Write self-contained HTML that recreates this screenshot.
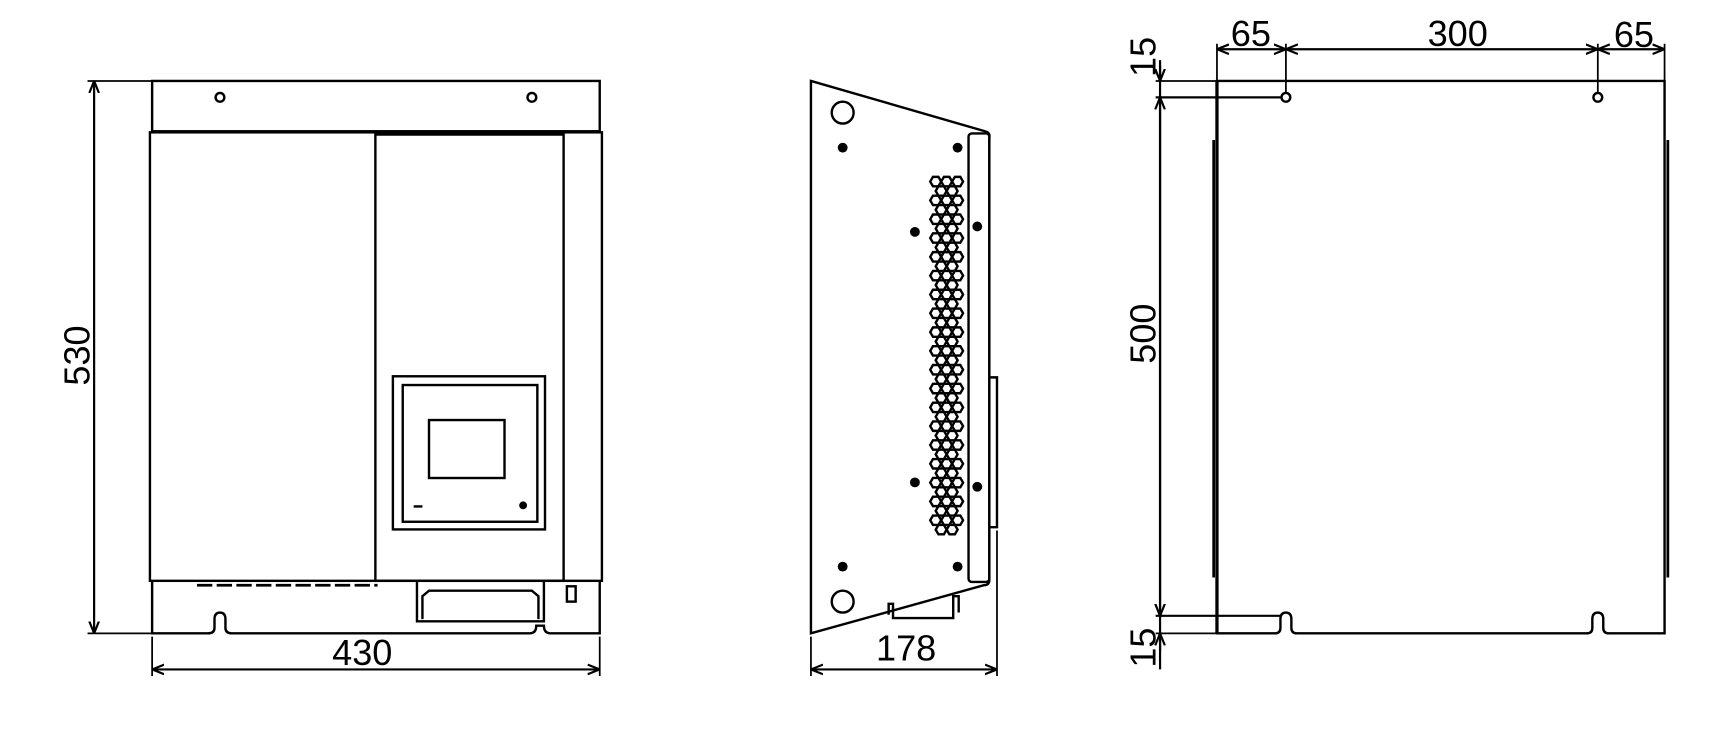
<!DOCTYPE html>
<html><head><meta charset="utf-8"><style>
html,body{margin:0;padding:0;background:#fff;}
svg{display:block;}
text{font-family:"Liberation Sans Narrow","Liberation Sans",sans-serif;font-size:33px;fill:#000;}
</style></head><body>
<svg id="s" width="1716" height="746" viewBox="0 0 1568 682" preserveAspectRatio="none" xmlns="http://www.w3.org/2000/svg">
<defs>
<marker id="a" viewBox="0 0 10 10" refX="10" refY="5" markerWidth="11" markerHeight="11" orient="auto-start-reverse" markerUnits="userSpaceOnUse"><path d="M0,1 L10,5 L0,9" fill="none" stroke="#000" stroke-width="1.8"/></marker>
</defs>
<g fill="none" stroke="#000" stroke-width="2.2">
<!-- FRONT VIEW -->
<rect x="139" y="74" width="409" height="46"/>
<circle cx="201" cy="89" r="4"/><circle cx="486" cy="89" r="4"/>
<rect x="137" y="121" width="413" height="410"/>
<rect x="343" y="123" width="172" height="408"/>
<rect x="359" y="344" width="139" height="140"/>
<rect x="368" y="352" width="123" height="125"/>
<rect x="392" y="384" width="69" height="53"/>
<line x1="378" y1="463" x2="386" y2="463"/>
<circle cx="478" cy="462" r="2.5" fill="#000"/>
<path d="M139,531 V579 H190 Q196,579 196,574 V566 Q196,560 201,560 Q206,560 206,566 V574 Q206,579 212,579 H484 Q490,579 490,572 H497 Q497,579 503,579 H548 V531"/>
<path d="M381,531 V568 H497 V531"/>
<path d="M386,566 V545 L392,540 H486 L492,545 V566"/>
<rect x="518" y="536" width="8" height="14"/>
<path d="M180,535 H345" stroke-dasharray="14 4" stroke-width="2.5"/>
<line x1="80" y1="74" x2="139" y2="74" stroke-width="1.6"/>
<line x1="80" y1="579" x2="139" y2="579" stroke-width="1.6"/>
<line x1="86" y1="74" x2="86" y2="579" stroke-width="2" marker-start="url(#a)" marker-end="url(#a)"/>
<line x1="139" y1="582" x2="139" y2="618" stroke-width="1.6"/>
<line x1="548" y1="582" x2="548" y2="618" stroke-width="1.6"/>
<line x1="139" y1="612" x2="548" y2="612" stroke-width="2" marker-start="url(#a)" marker-end="url(#a)"/>

<!-- SIDE VIEW -->
<path d="M741,74 L900,120 Q905,121 904,126 V530 Q904,535 899,535 L741,579 Z"/>
<rect x="885" y="122" width="19" height="410" rx="3"/>
<path d="M904,345 H911 V482 H904"/>
<path d="M812,562 V552 H816 V565 H871 V545 H876 V560"/>
<circle cx="770" cy="103" r="10"/><circle cx="770" cy="550" r="10"/>
<g id="hex"></g>
<line x1="741" y1="582" x2="741" y2="618" stroke-width="1.6"/>
<line x1="911" y1="485" x2="911" y2="618" stroke-width="1.6"/>
<line x1="741" y1="612" x2="911" y2="612" stroke-width="2" marker-start="url(#a)" marker-end="url(#a)"/>

<!-- REAR VIEW -->
<path d="M1112,74 H1521 V579 H1470 Q1465,579 1465,574 V566 Q1465,560 1460,560 Q1455,560 1455,566 V574 Q1455,579 1450,579 H1185 Q1180,579 1180,574 V566 Q1180,560 1175,560 Q1170,560 1170,566 V574 Q1170,579 1165,579 H1112 Z"/>
<line x1="1112" y1="74" x2="1112" y2="579" stroke-width="3"/>
<line x1="1109" y1="128" x2="1109" y2="528" stroke-width="2.5"/>
<line x1="1524" y1="128" x2="1524" y2="528" stroke-width="2.5"/>
<circle cx="1175" cy="89" r="4"/><circle cx="1460" cy="89" r="4"/>
<line x1="1112" y1="40" x2="1112" y2="74" stroke-width="1.6"/>
<line x1="1175" y1="40" x2="1175" y2="85" stroke-width="1.6"/>
<line x1="1460" y1="40" x2="1460" y2="85" stroke-width="1.6"/>
<line x1="1521" y1="40" x2="1521" y2="74" stroke-width="1.6"/>
<line x1="1112" y1="45" x2="1175" y2="45" stroke-width="2" marker-start="url(#a)" marker-end="url(#a)"/>
<line x1="1175" y1="45" x2="1460" y2="45" stroke-width="2" marker-start="url(#a)" marker-end="url(#a)"/>
<line x1="1460" y1="45" x2="1521" y2="45" stroke-width="2" marker-start="url(#a)" marker-end="url(#a)"/>
<line x1="1056" y1="74" x2="1112" y2="74" stroke-width="1.6"/>
<line x1="1056" y1="89" x2="1171" y2="89" stroke-width="2"/>
<line x1="1056" y1="563" x2="1171" y2="563" stroke-width="2"/>
<line x1="1056" y1="579" x2="1112" y2="579" stroke-width="1.6"/>
<line x1="1060" y1="55" x2="1060" y2="612" stroke-width="2"/>
<line x1="1060" y1="60" x2="1060" y2="74" marker-end="url(#a)" stroke-width="2"/>
<line x1="1060" y1="89" x2="1060" y2="563" marker-start="url(#a)" marker-end="url(#a)" stroke-width="2"/>
<line x1="1060" y1="579" x2="1060" y2="595" marker-start="url(#a)" stroke-width="2"/>
</g>
<g fill="#000">
<circle cx="770" cy="135" r="4.5"/><circle cx="875" cy="135" r="4.5"/>
<circle cx="836" cy="212" r="4.5"/><circle cx="893" cy="207" r="4.5"/>
<circle cx="836" cy="441" r="4.5"/><circle cx="893" cy="445" r="4.5"/>
<circle cx="770" cy="518" r="4.5"/><circle cx="875" cy="518" r="4.5"/>
</g>
<text x="82" y="325" text-anchor="middle" transform="rotate(-90 82 325)">530</text>
<text x="331" y="608" text-anchor="middle">430</text>
<text x="828" y="604" text-anchor="middle">178</text>
<text x="1143" y="42" text-anchor="middle">65</text>
<text x="1332" y="42" text-anchor="middle">300</text>
<text x="1493" y="43" text-anchor="middle">65</text>
<text x="1056" y="52" text-anchor="middle" transform="rotate(-90 1056 52)">15</text>
<text x="1056" y="305" text-anchor="middle" transform="rotate(-90 1056 305)">500</text>
<text x="1056" y="592" text-anchor="middle" transform="rotate(-90 1056 592)">15</text>
</svg>
<script>
var g=document.getElementById('hex'),h='';
for(var r=0;r<38;r++){var y=166+r*8.6;var xs=(r%2==0)?[855,865,875]:[860,870];
for(var i=0;i<xs.length;i++){var x=xs[i],p=[];for(var k=0;k<6;k++){var an=Math.PI/3*k;p.push((x+5*Math.cos(an)).toFixed(1)+','+(y+5*Math.sin(an)).toFixed(1));}
h+='<polygon points="'+p.join(' ')+'" stroke-width="2.2"/>';}}
g.innerHTML=h;
</script>
</body></html>
